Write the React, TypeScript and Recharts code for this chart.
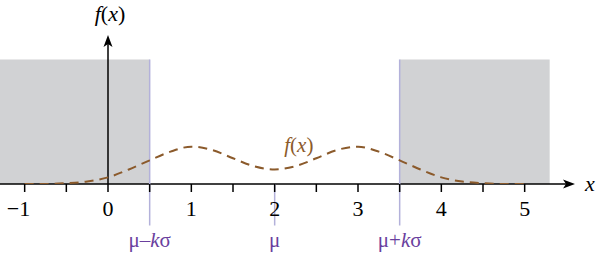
import { ComposedChart, Line, XAxis, YAxis, ReferenceArea, ReferenceLine, ReferenceDot } from 'recharts';

const xs = [-1, -0.75, -0.5, -0.25, 0, 0.25, 0.5, 0.75, 1, 1.25, 1.5, 1.75, 2, 2.25, 2.5, 2.75, 3, 3.25, 3.5, 3.75, 4, 4.25, 4.5, 4.75, 5];
const fx = [0, 0, 0.02, 0.06, 0.16, 0.35, 0.57, 0.78, 0.9, 0.82, 0.62, 0.43, 0.35, 0.43, 0.62, 0.82, 0.9, 0.78, 0.57, 0.35, 0.16, 0.06, 0.02, 0, 0];

const xTicks = [-1, -0.5, 0, 0.5, 1, 1.5, 2, 2.5, 3, 3.5, 4, 4.5, 5];
const yTicks = [1, 2, 3];
const muTicks = [0.5, 2, 3.5];
const muLabels: Record<number, [string, string, string]> = {
  0.5: ['μ–', 'k', 'σ'],
  2: ['μ', '', ''],
  3.5: ['μ+', 'k', 'σ'],
};
const shadeLeft = [-1.296, 0.5];
const shadeRight = [3.5, 5.3];
const shadeTop = 3;

const data = xs.map((x, i) => ({ x, y: fx[i] }));

const W = 608;
const H = 259;
const MARGIN = { top: 35, right: 33, bottom: 0, left: 0 };
const XMIN = -1.296;
const XMAX = 5.604;
const PLOT_W = W - MARGIN.left - MARGIN.right;
const X0 = MARGIN.left + (PLOT_W * (0 - XMIN)) / (XMAX - XMIN);

const SERIF = "'Liberation Serif', 'Times New Roman', Times, 'DejaVu Serif', serif";
const BROWN = '#8b5a2b';
const PURPLE = '#6a3f9e';
const LAVENDER = '#b3b1da';
const GRAY = '#d1d2d4';

const txt = (size: number, fill: string) => ({ fontFamily: SERIF, fontSize: size, fill });

const XTick = (props: any) => {
  const { x, y, payload } = props;
  const v = payload.value;
  if (!Number.isInteger(v)) return <g />;
  const neg = v < 0;
  return (
    <text x={neg ? x + 5.5 : x} y={y} dy="0.71em" textAnchor={neg ? 'end' : 'middle'} style={txt(22, '#000')}>
      {neg ? `−${Math.abs(v)}` : String(v)}
    </text>
  );
};

const YTick = (props: any) => {
  const { y, payload } = props;
  return (
    <g>
      <line x1={X0 - 8} x2={X0} y1={y} y2={y} stroke="#000" strokeWidth={1.5} />
      {payload.value === 1 && (
        <text x={X0 - 11} y={y} dy="0.35em" textAnchor="end" style={txt(22, '#000')}>
          1
        </text>
      )}
    </g>
  );
};

const MuTick = (props: any) => {
  const { x, y, payload } = props;
  const [a, k, s] = muLabels[payload.value] ?? ['', '', ''];
  return (
    <text x={x} y={y} dy="0.71em" textAnchor="middle" style={txt(21, PURPLE)}>
      <tspan>{a}</tspan>
      {k && <tspan fontStyle="italic">{k}</tspan>}
      {s && <tspan>{s}</tspan>}
    </text>
  );
};

const XAxisLine = (props: any) => {
  const { x1, x2, y1 } = props;
  const left = Math.min(x1, x2);
  const tip = Math.max(x1, x2);
  return (
    <g>
      <line x1={left} x2={tip - 9} y1={y1} y2={y1} stroke="#000" strokeWidth={1.5} />
      <path d={`M${tip},${y1} L${tip - 12},${y1 - 4.5} L${tip - 9},${y1} L${tip - 12},${y1 + 4.5} Z`} fill="#000" />
      <text x={tip + 10} y={y1 + 7} fontStyle="italic" style={txt(22, '#000')}>
        x
      </text>
    </g>
  );
};

const YAxisLine = (props: any) => {
  const { x1, y1, y2 } = props;
  const top = Math.min(y1, y2);
  const bottom = Math.max(y1, y2);
  return (
    <g>
      <line x1={x1} x2={x1} y1={bottom} y2={top + 9} stroke="#000" strokeWidth={1.5} />
      <path d={`M${x1},${top} L${x1 - 4.5},${top + 12} L${x1},${top + 9} L${x1 + 4.5},${top + 12} Z`} fill="#000" />
      <text x={x1 + 2} y={top - 14} textAnchor="middle" style={txt(22, '#000')}>
        <tspan fontStyle="italic">f</tspan>
        <tspan>(</tspan>
        <tspan fontStyle="italic">x</tspan>
        <tspan>)</tspan>
      </text>
    </g>
  );
};

const CurveLabel = (props: any) => {
  const { cx, cy } = props;
  return (
    <text x={cx} y={cy} textAnchor="middle" style={txt(21, BROWN)}>
      <tspan fontStyle="italic">f</tspan>
      <tspan>(</tspan>
      <tspan fontStyle="italic">x</tspan>
      <tspan>)</tspan>
    </text>
  );
};

export default function App() {
  return (
    <div style={{ position: 'absolute', left: 0, top: 0, background: '#fff', fontFamily: SERIF }}>
      <ComposedChart width={W} height={H} data={data} margin={MARGIN} style={{ fontFamily: SERIF }}>
        <XAxis
          dataKey="x"
          type="number"
          domain={[XMIN, XMAX]}
          allowDataOverflow
          ticks={xTicks}
          interval={0}
          height={40}
          axisLine={false}
          tickLine={{ stroke: '#000', strokeWidth: 1.5 }}
          tickSize={8}
          tickMargin={8}
          tick={XTick}
        />
        <XAxis
          xAxisId="mu"
          dataKey="x"
          type="number"
          domain={[XMIN, XMAX]}
          allowDataOverflow
          ticks={muTicks}
          interval={0}
          height={35}
          axisLine={false}
          tickLine={false}
          tickSize={4}
          tickMargin={4}
          tick={MuTick}
        />
        <YAxis
          type="number"
          domain={[0, 3.59]}
          allowDataOverflow
          ticks={yTicks}
          interval={0}
          width={0}
          axisLine={false}
          tickLine={false}
          tick={YTick}
        />
        <ReferenceArea x1={shadeLeft[0]} x2={shadeLeft[1]} y1={0} y2={shadeTop} fill={GRAY} fillOpacity={1} stroke="none" />
        <ReferenceArea x1={shadeRight[0]} x2={shadeRight[1]} y1={0} y2={shadeTop} fill={GRAY} fillOpacity={1} stroke="none" />
        <ReferenceLine y={0} shape={XAxisLine} />
        <ReferenceLine x={0} shape={YAxisLine} />
        <ReferenceLine
          segment={[{ x: 0.5, y: shadeTop }, { x: 0.5, y: -1 }]}
          ifOverflow="visible"
          stroke={LAVENDER}
          strokeWidth={1.5}
        />
        <ReferenceLine
          segment={[{ x: 3.5, y: shadeTop }, { x: 3.5, y: -1 }]}
          ifOverflow="visible"
          stroke={LAVENDER}
          strokeWidth={1.5}
        />
        <ReferenceLine
          segment={[{ x: 2, y: 0 }, { x: 2, y: -1 }]}
          ifOverflow="visible"
          stroke={LAVENDER}
          strokeWidth={1.5}
        />
        <Line
          dataKey="y"
          type="monotone"
          stroke={BROWN}
          strokeWidth={2}
          strokeDasharray="9 6"
          dot={false}
          activeDot={false}
          isAnimationActive={false}
        />
        <ReferenceDot x={2.29} y={0.78} r={0} ifOverflow="visible" shape={CurveLabel} />
      </ComposedChart>
    </div>
  );
}
